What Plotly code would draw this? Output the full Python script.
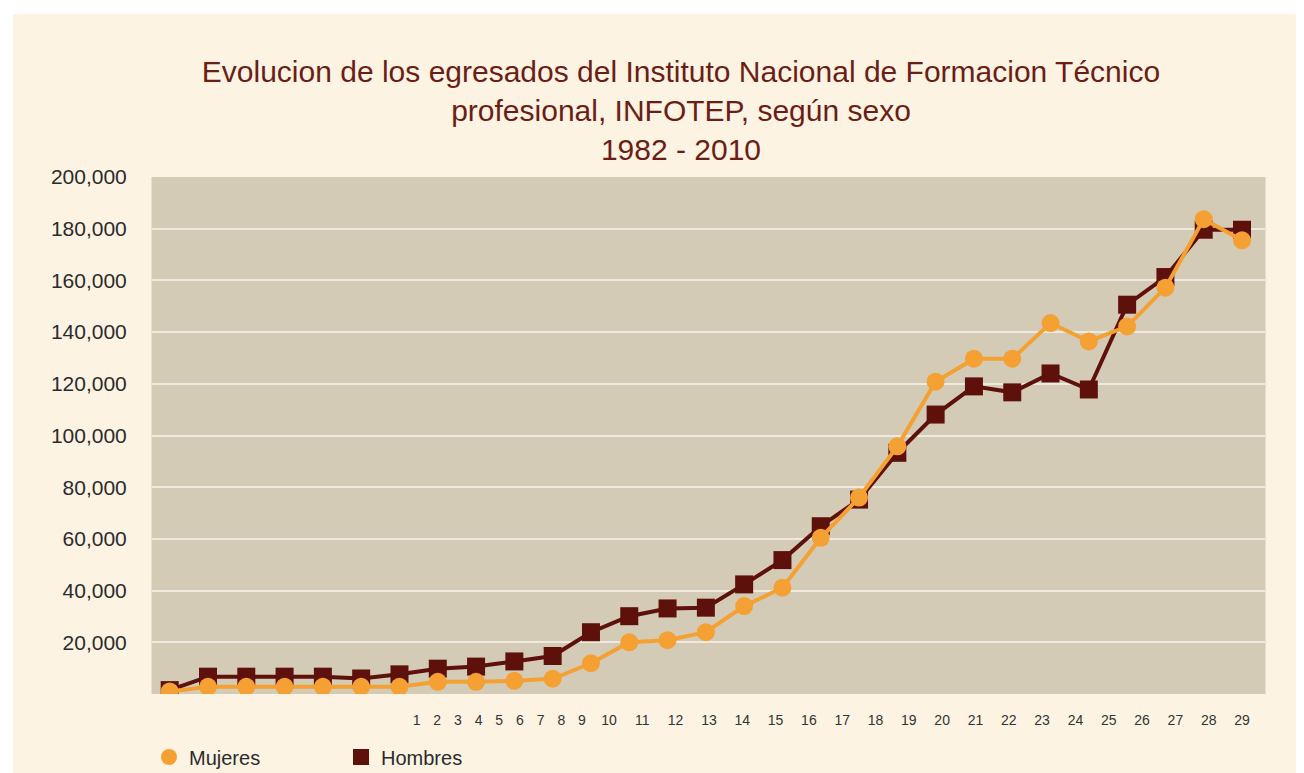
import plotly.graph_objects as go

# ---- data ----
periods = list(range(1, 30))
tick_labels = [str(i) for i in range(1, 30)]
mujeres = [1000, 2800, 2800, 2800, 2800, 2800, 2800, 4700, 4700, 5100, 5900,
           11900, 20000, 20800, 23900, 34000, 41100, 60400, 76000, 95800,
           120800, 129700, 129700, 143500, 136400, 142200, 157200, 183700, 175500]
hombres = [1500, 6700, 6700, 6700, 6700, 6000, 7600, 9800, 10600, 12600, 14700,
           23900, 30100, 33100, 33400, 42400, 51800, 64900, 75200, 93300,
           108100, 119000, 116700, 124000, 117800, 150600, 161300, 179600, 179600]
y_ticks = list(range(20000, 200001, 20000))

ORANGE = "#F4A032"
MAROON = "#5E100A"
CREAM = "#FDF3E3"
PLOTBG = "#D4CBB7"

# tick label layout: labels right-aligned to the last period, spread like letter-spaced text
pitch = {1: 0.540, 2: 0.870}
tick_pos = [0.0] * len(tick_labels)
tick_pos[-1] = periods[-1]
for i in range(len(tick_labels) - 2, -1, -1):
    tick_pos[i] = tick_pos[i + 1] - (pitch[len(tick_labels[i])] + pitch[len(tick_labels[i + 1])]) / 2

fig = go.Figure()
# line traces (legend handled by marker-only entries below)
fig.add_trace(go.Scatter(
    x=periods, y=hombres, name="Hombres", mode="lines+markers",
    line=dict(color=MAROON, width=4),
    marker=dict(symbol="square", size=18, color=MAROON),
    showlegend=False,
))
fig.add_trace(go.Scatter(
    x=periods, y=mujeres, name="Mujeres", mode="lines+markers",
    line=dict(color=ORANGE, width=4),
    marker=dict(symbol="circle", size=18, color=ORANGE),
    showlegend=False,
))
fig.add_trace(go.Scatter(
    x=[None], y=[None], name="Mujeres", mode="markers",
    marker=dict(symbol="circle", size=18, color=ORANGE), legendrank=1,
))
fig.add_trace(go.Scatter(
    x=[None], y=[None], name="Hombres", mode="markers",
    marker=dict(symbol="square", size=18, color=MAROON), legendrank=2,
))

OFF = 8  # page body margin
W, H = 1304 - OFF, 773 - OFF
L, R, T, B = 152 - OFF, 1304 - 1265, 177 - OFF, 773 - 694
pw, ph = W - L - R, H - T - B

def px2paper_x(px):
    return (px - OFF - L) / pw

def px2paper_y(py):
    return (H - B - (py - OFF)) / ph

# white outer border (left and top) around the cream card
shapes = []
for (x0, y0, x1, y1) in [(0, 0, 1304, 14), (0, 0, 13, 773)]:
    shapes.append(dict(type="rect", xref="paper", yref="paper", layer="above",
                       x0=px2paper_x(x0), x1=px2paper_x(x1),
                       y0=px2paper_y(y1), y1=px2paper_y(y0),
                       fillcolor="white", line=dict(width=0)))

fig.update_layout(
    width=W, height=H,
    margin=dict(l=L, r=R, t=T, b=B, autoexpand=False),
    paper_bgcolor=CREAM,
    plot_bgcolor=PLOTBG,
    shapes=shapes,
    font=dict(family="Liberation Sans, Arial, sans-serif", color="#2b2b2b"),
    title=dict(
        text="Evolucion de los egresados del Instituto Nacional de Formacion Técnico<br>"
             "profesional, INFOTEP, según sexo<br>1982 - 2010",
        x=(681 - OFF) / W, xanchor="center", xref="container",
        y=1 - 74 / H, yanchor="top", yref="container",
        font=dict(size=30, color="#6B1E16"),
    ),
    xaxis=dict(
        range=[0.538, 29.6],
        tickmode="array", tickvals=tick_pos, ticktext=tick_labels,
        showgrid=False, zeroline=False, ticks="",
        tickfont=dict(size=14, color="#333333"),
        ticklabelstandoff=16,
        showline=False,
    ),
    yaxis=dict(
        range=[0, 200000],
        tickmode="array", tickvals=y_ticks,
        ticktext=[f"{v:,}" for v in y_ticks],
        showgrid=True, gridcolor="#EFEAE0", gridwidth=1.5,
        zeroline=False, ticks="",
        tickfont=dict(size=21, color="#2b2b2b"),
        ticklabelstandoff=20,
        showline=True, linecolor="#E6E0D3", linewidth=1, mirror=True,
    ),
    showlegend=True,
    legend=dict(
        orientation="h",
        xref="container", x=(149 - OFF) / W, xanchor="left",
        yref="container", y=1 - (757 - OFF) / H, yanchor="middle",
        font=dict(size=20, color="#2b2b2b"),
        bgcolor="rgba(0,0,0,0)",
        entrywidth=147, entrywidthmode="pixels",
    ),
)

fig.write_html("out.html")
